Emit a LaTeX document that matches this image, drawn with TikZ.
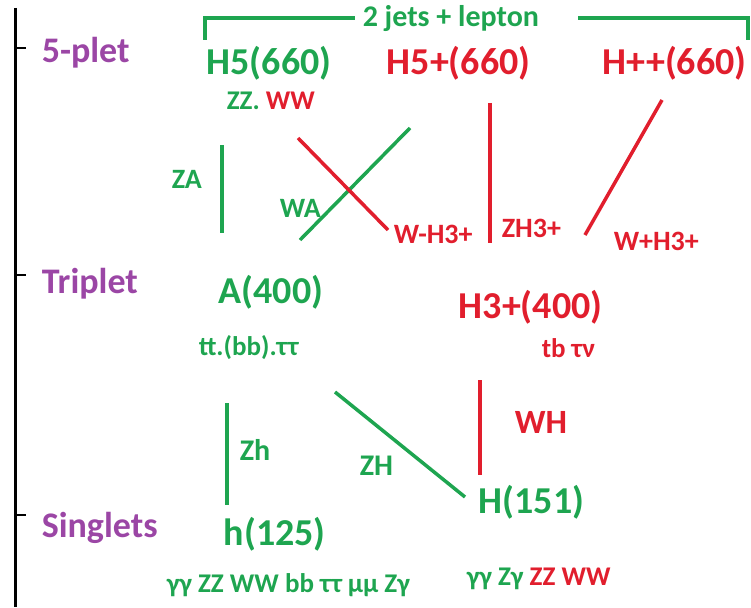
\documentclass[tikz,border=0pt]{standalone}
\usepackage{fontspec}
\setmainfont{Carlito}
\usetikzlibrary{positioning}
\definecolor{hgreen}{RGB}{30,165,80}
\definecolor{hred}{RGB}{225,30,45}
\definecolor{plum}{RGB}{155,70,165}

\begin{document}
\begin{tikzpicture}[x=1pt,y=-1pt,inner sep=0pt,anchor=base west,
                    line width=3.5pt]
  \tikzstyle{level}=[text=plum,font=\bfseries\fontsize{36}{40}\selectfont]
  \tikzstyle{higgs}=[font=\bfseries\fontsize{38}{44}\selectfont]
  \tikzstyle{chan}=[font=\bfseries\fontsize{28}{32}\selectfont]
  \tikzstyle{decay}=[font=\bfseries\fontsize{27}{30}\selectfont]
  \tikzstyle{gline}=[draw=hgreen]
  \tikzstyle{rline}=[draw=hred]

  \useasboundingbox (0,0) rectangle (751,607);

  % axis with the three levels
  \draw[line width=3pt] (15,8) -- (15,607);
  \foreach \y in {48,275,515}
    \draw[line width=1.5pt] (15,\y) -- (26,\y);
  \node[level] (five)  at (40,63)  {5-plet};
  \node[level] (trip)  at (40,293) {Triplet};
  \node[level] (sing)  at (40,537) {Singlets};

  % particles
  \node[higgs,text=hgreen] (H5)   at (205,75)  {H5(660)};
  \node[higgs,text=hred]   (H5p)  at (385,75)  {H5+(660)};
  \node[higgs,text=hred]   (Hpp)  at (601,75)  {H++(660)};
  \node[higgs,text=hgreen] (A)    at (217,303) {A(400)};
  \node[higgs,text=hred]   (H3p)  at (457,318) {H3+(400)};
  \node[higgs,text=hgreen] (h)    at (222,545) {h(125)};
  \node[higgs,text=hgreen] (H)    at (477,513) {H(151)};

  % final states
  \node[decay,text=hgreen] (H5dec) at (225,110) {ZZ. \textcolor{hred}{WW}};
  \node[decay,text=hgreen] (Adec)  at (197,355) {tt.(bb).ττ};
  \node[decay,text=hred]   (H3dec) at (540,357) {tb τν};
  \node[decay,text=hgreen] (hdec)  at (165,592) {γγ ZZ WW bb ττ μμ Zγ};
  \node[decay,text=hgreen] (Hdec)  at (465,585) {γγ Zγ \textcolor{hred}{ZZ WW}};

  % 2 jets + lepton bracket
  \node[chan,text=hgreen,font=\bfseries\fontsize{30}{34}\selectfont]
                          (jets) at (361,27) {2 jets + lepton};
  \coordinate (bl) at (205,40);
  \coordinate (br) at (748,40);
  \draw[gline] (bl) |- (355,18);
  \draw[gline] (578,18) -| (br);

  % transitions
  \coordinate (za1) at (222,145);  \coordinate (za2) at (222,233);
  \coordinate (wa1) at (300,240);  \coordinate (wa2) at (410,128);
  \coordinate (wm1) at (298,138);  \coordinate (wm2) at (388,230);
  \coordinate (zt1) at (490,103);  \coordinate (zt2) at (490,243);
  \coordinate (wp1) at (585,235);  \coordinate (wp2) at (662,100);
  \coordinate (wh1) at (480,380);  \coordinate (wh2) at (480,475);
  \coordinate (zh1) at (227,403);  \coordinate (zh2) at (227,505);
  \coordinate (zH1) at (335,392);  \coordinate (zH2) at (465,497);

  \path (za1) edge[gline] (za2)
        (wa1) edge[gline] (wa2)
        (wm1) edge[rline] (wm2)
        (zt1) edge[rline] (zt2)
        (wp1) edge[rline] (wp2)
        (wh1) edge[rline] (wh2)
        (zh1) edge[gline] (zh2)
        (zH1) edge[gline] (zH2);

  \node[chan,text=hgreen] (ZA)  at (170,188) {ZA};
  \node[chan,text=hgreen] (WA)  at (278,217) {WA};
  \node[chan,text=hred]   (WmH) at (392,243) {W-H3+};
  \node[chan,text=hred]   (ZH3) at (500,237) {ZH3+};
  \node[chan,text=hred]   (WpH) at (612,250) {W+H3+};
  \node[higgs,text=hred,font=\bfseries\fontsize{34}{40}\selectfont]
                          (WH)  at (513,433) {WH};
  \node[chan,text=hgreen,font=\bfseries\fontsize{30}{34}\selectfont]
                          (Zh)  at (238,460) {Zh};
  \node[chan,text=hgreen,font=\bfseries\fontsize{30}{34}\selectfont]
                          (ZH)  at (358,475) {ZH};
\end{tikzpicture}
\end{document}
